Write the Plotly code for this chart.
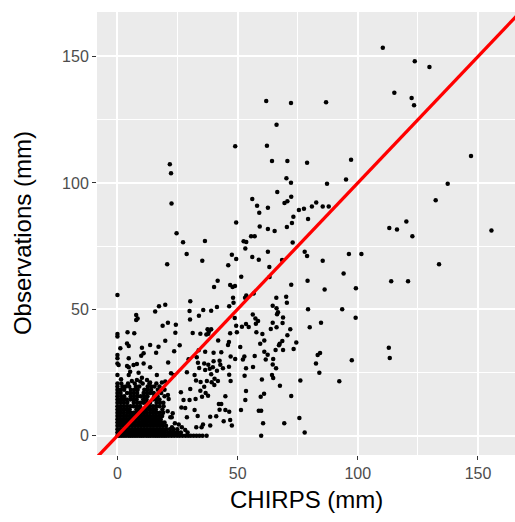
import plotly.graph_objects as go

# Scattered stations/days, grouped by region of the plot (CHIRPS mm, observed mm)
high_pts = [
    (49.0, 114.5), (61.9, 132.4), (72.2, 131.6), (86.8, 131.9), (66.2, 123.0), (62.2, 114.7),
    (64.3, 108.7), (70.7, 108.7), (78.9, 108.0), (97.2, 109.2), (110.4, 153.5), (123.7, 148.1),
    (129.8, 145.8), (115.2, 135.7), (122.4, 133.6), (123.4, 130.7), (147.1, 110.6), (21.8, 107.4),
    (22.3, 103.8), (70.3, 101.8), (72.2, 100.1), (87.2, 99.7), (95.1, 101.3), (137.4, 99.7),
]

mid_pts = [
    (22.5, 91.9), (49.4, 84.3), (24.6, 80.1), (27.3, 76.5), (36.4, 77.0), (28.8, 71.9), (35.3, 69.2),
    (20.7, 67.8), (47.6, 71.6), (49.4, 69.9), (46.1, 67.4), (41.7, 61.3), (40.2, 58.8), (46.9, 59.6),
    (47.9, 58.8), (48.9, 59.2), (48.1, 54.6), (48.3, 52.6), (41.4, 50.9), (46.5, 51.2), (30.3, 53.2),
    (19.9, 51.8), (17.3, 51.2), (0.0, 55.7), (35.7, 49.7),
    (66.5, 96.4), (56.1, 93.6), (58.1, 91.0), (62.6, 90.2), (59.0, 88.2), (70.7, 92.7), (72.3, 94.5),
    (69.5, 92.0), (75.5, 89.3), (77.6, 89.8), (80.9, 90.7), (82.7, 92.2), (85.4, 90.7), (87.9, 90.7),
    (73.2, 86.6), (79.3, 85.7), (72.6, 84.1), (70.5, 82.6), (59.2, 82.8), (62.6, 81.8), (65.4, 81.0),
    (55.6, 78.9), (57.1, 78.9), (52.5, 76.9), (53.6, 76.6), (72.9, 76.4), (53.2, 74.1), (62.6, 72.8),
    (77.9, 72.8), (78.9, 71.1), (56.1, 70.7), (58.8, 69.6), (68.5, 69.5), (85.4, 69.2), (96.3, 71.9),
    (101.5, 71.9), (63.2, 66.7), (51.5, 62.9), (63.3, 62.8), (79.1, 61.3), (94.1, 64.2), (72.3, 59.7),
    (86.2, 57.8), (99.2, 58.3), (53.6, 55.5), (56.7, 56.3), (53.1, 54.6), (66.1, 54.6), (70.2, 55.0),
    (70.5, 52.6), (64.6, 51.4), (66.2, 50.4), (79.3, 50.0), (93.5, 50.0),
    (132.4, 93.1), (120.2, 84.7), (113.1, 82.2), (116.3, 81.6), (122.7, 78.9), (155.6, 81.2),
    (133.8, 67.8), (113.9, 61.1), (120.9, 61.1),
]

low_right_pts = [
    (112.9, 34.8), (113.3, 30.7),
    (56.3, 47.9), (57.4, 46.4), (58.5, 45.4), (57.6, 44.3), (66.4, 48.0), (66.8, 48.8), (68.9, 46.8),
    (68.7, 44.6), (64.6, 44.7), (99.1, 46.7), (84.7, 44.7), (80.0, 42.9), (51.8, 43.1), (53.5, 44.2),
    (54.6, 43.0), (49.7, 40.9), (57.8, 40.9), (60.3, 40.2), (63.8, 42.2), (66.2, 42.9), (71.9, 42.1),
    (70.7, 39.7), (61.1, 37.7), (59.4, 36.4), (68.6, 37.5), (67.5, 36.4), (67.2, 35.8), (74.4, 36.9),
    (73.3, 34.3), (68.9, 33.9), (65.8, 33.9), (51.1, 35.1), (61.1, 33.2), (62.5, 32.0), (84.3, 32.7),
    (83.3, 31.9), (57.1, 31.5), (52.8, 31.3), (52.2, 30.1), (61.7, 30.1), (64.8, 30.3), (82.6, 28.6),
    (97.5, 29.8), (64.6, 28.2), (66.0, 26.7), (56.4, 27.2), (53.5, 26.7), (84.0, 24.9), (52.9, 23.7),
    (64.3, 24.0), (64.8, 22.8), (60.1, 22.2), (76.1, 21.8), (92.3, 21.5), (67.6, 19.8), (53.5, 17.7),
    (61.0, 16.6), (59.6, 15.4), (72.3, 15.7), (53.2, 14.1), (51.4, 10.2), (58.8, 9.9), (59.8, 9.9),
    (75.7, 7.0), (60.6, 4.9), (69.4, 4.9), (77.9, 1.3), (59.8, 0.0),
]

mid_left_pts = [
    (30.0, 49.3), (33.9, 47.5), (39.0, 49.4), (21.0, 44.7), (24.3, 43.9), (30.2, 46.0), (37.5, 42.1),
    (38.1, 41.3), (37.8, 40.3), (37.0, 40.0), (39.0, 42.1), (31.3, 40.6), (34.5, 40.3), (24.1, 40.7),
    (46.9, 40.5), (49.4, 43.5), (48.8, 46.6), (41.9, 37.7), (46.4, 37.1), (25.9, 35.8), (23.6, 33.4),
    (33.8, 33.8), (36.5, 33.2), (40.0, 32.8), (43.2, 33.0), (46.0, 35.9), (47.1, 31.3), (49.0, 30.3),
    (21.1, 29.0), (29.6, 30.2), (33.0, 31.0), (33.5, 28.9), (36.1, 28.6), (37.8, 28.1), (40.0, 29.5),
    (42.5, 29.7), (42.8, 28.1), (34.0, 26.8), (36.5, 26.0), (38.4, 26.5), (39.7, 27.1), (41.4, 25.7),
    (43.9, 26.7), (46.4, 27.3), (22.3, 24.7), (23.4, 24.0), (28.9, 25.1), (32.1, 24.0), (39.0, 24.3),
    (46.5, 24.1), (32.7, 21.8), (34.6, 21.2), (37.2, 21.6), (39.2, 21.1), (41.8, 21.6), (47.1, 21.6),
    (40.4, 22.5),
    (15.7, 49.1), (7.8, 47.7), (8.4, 46.4), (7.8, 45.8), (18.8, 43.5), (4.2, 40.9), (7.0, 40.5),
    (0.0, 40.2), (0.0, 39.2), (19.9, 37.6), (4.0, 36.5), (4.7, 35.5), (10.2, 34.8), (13.6, 35.9),
    (17.1, 35.2), (1.2, 34.6), (16.1, 32.8), (0.0, 31.9), (10.9, 32.6), (4.7, 30.6), (0.0, 30.6),
    (9.9, 31.6), (10.9, 28.6), (6.7, 28.0), (0.5, 28.0), (4.0, 27.6), (0.0, 28.6), (4.7, 27.1),
    (5.3, 25.3), (8.1, 28.4), (13.6, 27.1), (8.8, 24.9), (0.0, 24.0), (4.7, 24.0), (16.4, 24.0),
    (1.5, 22.3), (6.0, 21.6), (8.1, 22.0), (10.2, 22.9), (9.5, 21.4), (12.3, 22.0), (13.6, 21.0),
    (18.5, 21.0), (19.9, 21.4),
]

low_left_pts = [
    (21.0, 16.1), (26.4, 17.2), (30.3, 18.5), (34.5, 17.8), (36.1, 19.4), (36.7, 16.9), (37.7, 15.8),
    (40.3, 20.1), (44.9, 15.6), (27.5, 14.1), (30.0, 14.1), (32.5, 14.5), (35.2, 15.4), (26.6, 11.2),
    (28.2, 11.0), (23.0, 8.9), (22.6, 7.3), (28.9, 7.3), (32.1, 10.2), (33.4, 7.8), (42.2, 12.5),
    (42.5, 10.3), (43.2, 12.5), (44.9, 10.2), (46.5, 9.5), (38.6, 7.5), (41.1, 7.7), (44.2, 5.7),
    (46.9, 6.2), (47.6, 4.0), (38.6, 4.0), (35.6, 4.4), (32.8, 3.3), (35.0, 3.3), (23.9, 4.9),
    (25.5, 4.4), (26.8, 3.3), (28.2, 2.3), (29.2, 1.3), (21.3, 14.5), (22.0, 7.3), (20.9, 9.7),
    (22.7, 3.3),
]

# Densely packed low-rainfall days: observed value -> CHIRPS values on that row
dense_rows = [
    (0.0, [0, 0.9, 1.8, 2.7, 3.6, 4.6, 5.5, 6.4, 7.3, 8.2, 9.2, 10.1, 11, 12, 12.9, 13.8, 14.8, 15.7,
           16.6, 17.5, 18.5, 19.4, 20.3, 21.4, 22.5, 23.6, 24.8, 25.9, 27.1, 28.3, 29.4, 30.5, 31.7,
           32.9, 34.1, 35.4, 37.1]),
    (1.3, [0, 1.1, 2.3, 3.5, 4.6, 5.8, 7, 8.1, 9.3, 10.5, 11.6, 12.8, 14, 15.1, 16.3, 17.5, 18.6,
           19.8, 21.2, 22.5, 23.8, 25.1, 26.4]),
    (2.6, [0, 1.2, 2.4, 3.6, 4.8, 6, 7.2, 8.4, 9.6, 10.8, 12, 13.2, 14.4, 15.6, 16.8, 18, 19.2, 20.4,
           21.9, 23.3, 24.9]),
    (3.9, [0, 1.3, 2.5, 3.8, 5, 6.3, 7.5, 8.8, 10, 11.3, 12.5, 13.8, 15, 16.3, 17.5, 18.8, 20.2]),
    (5.2, [0, 1.2, 2.4, 3.7, 4.9, 6.1, 7.3, 8.6, 9.8, 11, 12.2, 13.5, 14.7, 15.9, 17.1, 18.4, 19.6]),
    (6.5, [0, 1.3, 2.6, 3.9, 5.1, 6.4, 7.7, 9, 10.3, 11.6, 12.9, 14.1, 15.4, 16.7, 18]),
    (7.8, [0, 1.2, 2.5, 3.7, 5, 6.2, 7.4, 8.7, 9.9, 11.2, 12.4, 13.6, 14.9, 16.1, 17.4, 18.6]),
    (9.1, [0, 1.4, 2.7, 4.1, 5.4, 6.8, 8.1, 9.5, 10.8, 12.2, 13.6, 14.9, 16.3, 17.6, 19]),
    (10.4, [0, 1.1, 2.4, 3.8, 5.1, 7.9, 9.2, 10.6, 11.9, 13.3, 14.6, 16, 18.7]),
    (11.7, [0, 1.3, 2.7, 4, 5.4, 6.7, 8.1, 9.4, 12.1, 13.4, 14.8, 16.1, 17.5, 19.2]),
    (13.0, [0, 1.4, 2.7, 4.1, 6.8, 8.2, 9.5, 10.9, 12.3, 13.6, 16.3, 17.7, 19.1]),
    (14.3, [0, 1.2, 2.6, 3.9, 5.3, 6.6, 8, 10.7, 12.1, 14.8, 16.1, 17.5]),
    (15.6, [0, 1.5, 2.8, 5.5, 6.9, 8.3, 9.7, 11.1, 12.5, 15.3, 16.7, 19.6]),
    (16.9, [0, 1.3, 4, 5.4, 6.8, 8.2, 10.9, 12.3, 13.7, 15.1, 18.2]),
    (18.2, [0, 1.4, 2.8, 5.6, 7, 8.4, 11.2, 12.6, 14, 16.8, 19.6]),
    (19.5, [0, 2.1, 3.5, 4.9, 7.7, 9.1, 12.6, 14, 15.4, 17.5]),
    (20.7, [0, 1.6, 4.4, 7.2, 10.5, 13.3, 16.2]),
]

# 1:1 reference line end points
identity_line = [-20, 180]

x_ticks = [0, 50, 100, 150]
y_ticks = [0, 50, 100, 150]

pts = high_pts + mid_pts + low_right_pts + mid_left_pts + low_left_pts
for obs, chirps_row in dense_rows:
    pts += [(c, obs) for c in chirps_row]
chirps = [p[0] for p in pts]
obs = [p[1] for p in pts]

fig = go.Figure()
fig.add_trace(go.Scatter(
    x=chirps, y=obs, mode="markers",
    marker=dict(color="black", size=4.5, line=dict(width=0)),
    hoverinfo="skip", showlegend=False,
))
fig.add_trace(go.Scatter(
    x=identity_line, y=identity_line, mode="lines",
    line=dict(color="#FF0000", width=3.3),
    hoverinfo="skip", showlegend=False,
))

font_family = "Liberation Sans, Arial, sans-serif"
axis_common = dict(
    showline=False, zeroline=False,
    showgrid=True, gridcolor="white", gridwidth=2,
    ticks="outside", ticklen=4, tickwidth=1.1, tickcolor="#333333",
    tickfont=dict(family=font_family, size=16, color="#4D4D4D"),
    minor=dict(dtick=25, showgrid=True, gridcolor="white", gridwidth=1, ticks=""),
)

L, R, T, B = 97, 0, 12, 67
fig.update_layout(
    width=515, height=522,
    margin=dict(l=L, r=R, t=T, b=B),
    plot_bgcolor="#EBEBEB", paper_bgcolor="white",
    xaxis=dict(range=[-8.5, 165.4], tickvals=x_ticks, ticktext=[str(v) for v in x_ticks], **axis_common),
    yaxis=dict(range=[-7.63, 167.6], tickvals=y_ticks, ticktext=[str(v) for v in y_ticks], **axis_common),
    annotations=[
        dict(text="CHIRPS (mm)", xref="paper", yref="paper", x=0.5, y=-0.1,
             xanchor="center", yanchor="middle", showarrow=False,
             font=dict(family=font_family, size=24, color="black")),
        dict(text="Observations (mm)", xref="paper", yref="paper", x=-0.178, y=0.5,
             xanchor="center", yanchor="middle", textangle=-90, showarrow=False,
             font=dict(family=font_family, size=24, color="black")),
    ],
)

fig.write_html("out.html")
